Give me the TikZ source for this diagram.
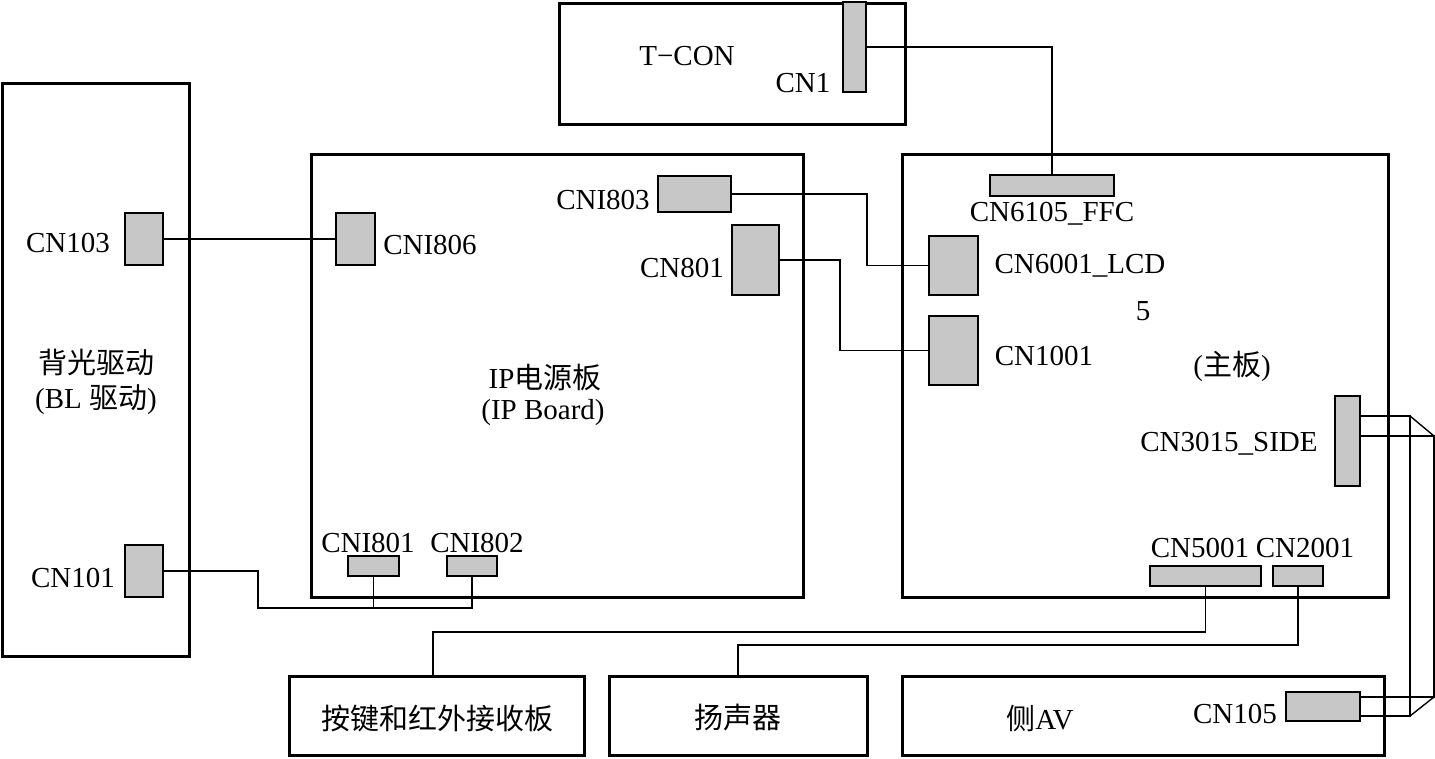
\documentclass[tikz,border=0pt]{standalone}
\usepackage{fontspec}
\setmainfont{Liberation Serif}
\newfontfamily\cjk{Noto Sans CJK SC}
\begin{document}
\begin{tikzpicture}[x=1pt,y=-1pt,
  board/.style={draw, line width=3pt, rectangle, inner sep=0pt},
  conn/.style={draw, line width=1.6pt, fill=black!22, rectangle, inner sep=0pt},
  wire/.style={line width=1.4pt},
  lbl/.style={inner sep=0pt, font=\fontsize{29}{33}\selectfont}]
\useasboundingbox (0,0) rectangle (1435,758);
% boards
\node[board, minimum width=187pt, minimum height=573pt] (bl) at (95.5,369.5) {};
\node[board, minimum width=492pt, minimum height=443pt] (ip) at (557,375.5) {};
\node[board, minimum width=346pt, minimum height=121pt] (tcon) at (732,63.5) {};
\node[board, minimum width=486pt, minimum height=443pt] (main) at (1145,375.5) {};
\node[board, minimum width=295pt, minimum height=79pt] (key) at (436.5,715.5) {};
\node[board, minimum width=258pt, minimum height=79pt] (spk) at (738,715.5) {};
\node[board, minimum width=482pt, minimum height=79pt] (av) at (1143,715.5) {};
% connectors
\node[conn, minimum width=38pt, minimum height=52pt] (cn103) at (144,239) {};
\node[conn, minimum width=39pt, minimum height=52pt] (cni806) at (355.5,239) {};
\node[conn, minimum width=38pt, minimum height=52pt] (cn101) at (144,571) {};
\node[conn, minimum width=51pt, minimum height=20pt] (cni801) at (373.5,566) {};
\node[conn, minimum width=50pt, minimum height=20pt] (cni802) at (472,566) {};
\node[conn, minimum width=73pt, minimum height=36pt] (cni803) at (694.5,194) {};
\node[conn, minimum width=47pt, minimum height=70pt] (cn801) at (755.5,260) {};
\node[conn, minimum width=23pt, minimum height=90pt] (cn1) at (854.5,47) {};
\node[conn, minimum width=124pt, minimum height=21pt] (cn6105) at (1052,185.5) {};
\node[conn, minimum width=49pt, minimum height=59pt] (cn6001) at (953.5,265.5) {};
\node[conn, minimum width=49pt, minimum height=69pt] (cn1001) at (953.5,350.5) {};
\node[conn, minimum width=25pt, minimum height=90pt] (cn3015) at (1347.5,441) {};
\node[conn, minimum width=111pt, minimum height=20pt] (cn5001) at (1205.5,576) {};
\node[conn, minimum width=50pt, minimum height=20pt] (cn2001) at (1298,576) {};
\node[conn, minimum width=74pt, minimum height=29pt] (cn105) at (1323,706.5) {};
% labels
\node[lbl] (t1) at (68,243) {CN103};
\node[lbl] (t2) at (430,245) {CNI806};
\node[lbl] (t3) at (73,578) {CN101};
\node[lbl] (t4) at (368,543) {CNI801};
\node[lbl] (t5) at (477,543) {CNI802};
\node[lbl] (t6) at (603,200) {CNI803};
\node[lbl] (t7) at (682,268) {CN801};
\node[lbl] (t8) at (803,83) {CN1};
\node[lbl] (t9) at (687,56) {T−CON};
\node[lbl] (t10) at (1052,214) {CN6105\_FFC};
\node[lbl] (t11) at (1080,266) {CN6001\_LCD};
\node[lbl] (t12) at (1143,311) {5};
\node[lbl] (t13) at (1044,356) {CN1001};
\node[lbl] (t14) at (1232,366) {({\cjk 主板})};
\node[lbl] (t15) at (1229,444) {CN3015\_SIDE};
\node[lbl] (t16) at (1200,548) {CN5001};
\node[lbl] (t17) at (1305,548) {CN2001};
\node[lbl] (t18) at (1235,714) {CN105};
\node[lbl] (t19) at (1040,718) {{\cjk 侧}AV};
\node[lbl] (t20) at (437,718) {\cjk 按键和红外接收板};
\node[lbl] (t21) at (738,718) {\cjk 扬声器};
\node[lbl] (t22) at (96,362) {\cjk 背光驱动};
\node[lbl] (t23) at (96,400) {(BL {\cjk 驱动})};
\node[lbl] (t24) at (545,378) {IP{\cjk 电源板}};
\node[lbl] (t25) at (543,413) {(IP Board)};
% wires
\coordinate (j1) at (258,608);
\coordinate (b1) at (867,0);
\coordinate (b2) at (840,0);
\coordinate (k) at (433,632);
\coordinate (s) at (738,645);
\draw[wire] (cn103.east) -- (cni806.west);
\draw[wire] (cn101.east) -| (j1) -- (cni802.south |- j1) -- (cni802.south);
\draw[wire] (cni801.south) -- (cni801.south |- j1);
\draw[wire] (cn1.east) -| (cn6105.north);
\draw[wire] (cni803.east) -| (b1 |- cn6001.west) -- (cn6001.west);
\draw[wire] (cn801.east) -| (b2 |- cn1001.west) -- (cn1001.west);
\draw[wire] (cn5001.south) |- (k) -- (k |- key.north);
\draw[wire] (cn2001.south) |- (s) -- (s |- spk.north);
% ribbon cable
\coordinate (r1) at (1410,416);
\coordinate (r2) at (1434,436);
\coordinate (r3) at (1434,697);
\coordinate (r4) at (1410,716);
\draw[wire] (cn3015.east |- r1) -- (r1) -- (r4) -- (cn105.east |- r4);
\draw[wire] (cn3015.east |- r2) -- (r2) -- (r3) -- (cn105.east |- r3);
\draw[wire] (r1) -- (r2);
\draw[wire] (r3) -- (r4);
\end{tikzpicture}
\end{document}
